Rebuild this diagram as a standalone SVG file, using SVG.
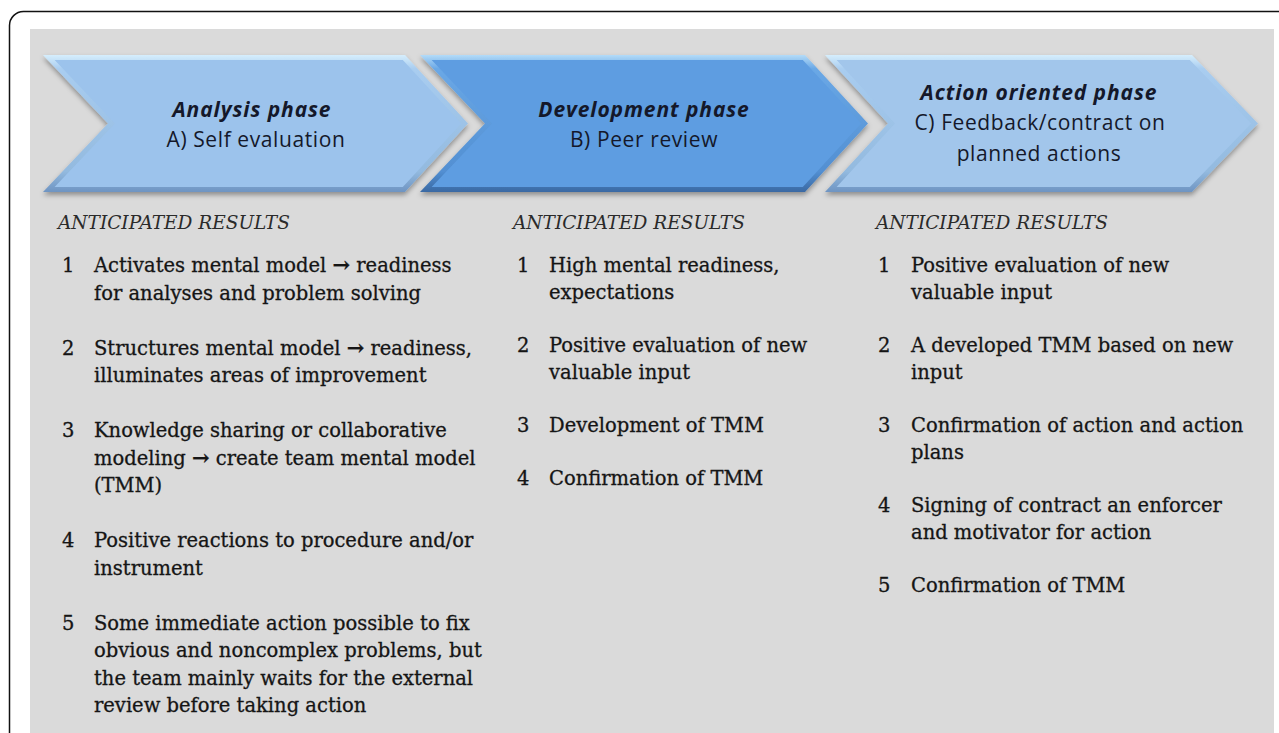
<svg xmlns="http://www.w3.org/2000/svg" width="1279" height="733" viewBox="0 0 1279 733">
<defs>
<linearGradient id="bevL" x1="0" y1="0" x2="0" y2="1">
<stop offset="0" stop-color="#d6eefc"/><stop offset="0.1" stop-color="#a9cdf0"/><stop offset="0.85" stop-color="#93badf"/><stop offset="1" stop-color="#6e94c2"/>
</linearGradient>
<linearGradient id="bevD" x1="0" y1="0" x2="0" y2="1">
<stop offset="0" stop-color="#b3dbf8"/><stop offset="0.1" stop-color="#6aa8e6"/><stop offset="0.85" stop-color="#528fd2"/><stop offset="1" stop-color="#3a69a3"/>
</linearGradient>
<filter id="sh" x="-5%" y="-10%" width="110%" height="130%">
<feDropShadow dx="0" dy="3" stdDeviation="2.5" flood-color="#000" flood-opacity="0.35"/>
</filter>
<style>
.hdB{font-family:"Open Sans","Liberation Sans",sans-serif;font-size:21px;font-weight:bold;font-style:italic;fill:#14182a;text-anchor:middle;letter-spacing:0.9px}
.hd{font-family:"Open Sans","Liberation Sans",sans-serif;font-size:21px;fill:#14182a;text-anchor:middle;letter-spacing:0.6px}
.ar{font-family:"DejaVu Serif","Liberation Serif",serif;font-size:18.5px;font-style:italic;fill:#2a2a2a}
.tx{font-family:"DejaVu Serif","Liberation Serif",serif;font-size:19.5px;fill:#151515;stroke:#151515;stroke-width:0.3}
.arw{font-weight:bold;font-size:21px}
</style>
</defs>
<rect x="9.5" y="11.5" width="1320" height="800" rx="14" fill="#ffffff" stroke="#111" stroke-width="1.5"/>
<rect x="30" y="29" width="1244" height="704" fill="#dadada"/>

<g id="phase-a">
<polygon points="43,55 405,55 468,123.5 405,192 43,192 108,123.5" fill="url(#bevL)" filter="url(#sh)"/>
<polygon points="54.6,60 402.8,60 461.2,123.5 402.8,187 54.6,187 114.9,123.5" fill="#9cc3ec"/>
<text class="hdB" x="252" y="117">Analysis phase</text>
<text class="hd" x="256" y="147">A) Self evaluation</text>
</g>
<g id="phase-b">
<polygon points="420,55 805,55 868,123.5 805,192 420,192 485,123.5" fill="url(#bevD)" filter="url(#sh)"/>
<polygon points="431.6,60 802.8,60 861.2,123.5 802.8,187 431.6,187 491.9,123.5" fill="#5e9de1"/>
<text class="hdB" x="644" y="117">Development phase</text>
<text class="hd" x="644" y="147">B) Peer review</text>
</g>
<g id="phase-c">
<polygon points="825,55 1192,55 1258,123.5 1192,192 825,192 888,123.5" fill="url(#bevL)" filter="url(#sh)"/>
<polygon points="836.6,60 1189.8,60 1251.2,123.5 1189.8,187 836.6,187 894.9,123.5" fill="#a2c6eb"/>
<text class="hdB" x="1039" y="100">Action oriented phase</text>
<text class="hd" x="1040" y="130">C) Feedback/contract on</text>
<text class="hd" x="1039" y="161">planned actions</text>
</g>
<g id="connectors"/>

<g id="results-a">
<text class="ar" x="58" y="229">ANTICIPATED RESULTS</text>
<text class="tx" x="62" y="272">1</text>
<text class="tx" x="94" y="272">Activates mental model <tspan class="arw">→</tspan> readiness</text>
<text class="tx" x="94" y="299.5">for analyses and problem solving</text>
<text class="tx" x="62" y="354.5">2</text>
<text class="tx" x="94" y="354.5">Structures mental model <tspan class="arw">→</tspan> readiness,</text>
<text class="tx" x="94" y="382">illuminates areas of improvement</text>
<text class="tx" x="62" y="437">3</text>
<text class="tx" x="94" y="437">Knowledge sharing or collaborative</text>
<text class="tx" x="94" y="464.5">modeling <tspan class="arw">→</tspan>  create team mental model</text>
<text class="tx" x="94" y="492">(TMM)</text>
<text class="tx" x="62" y="547">4</text>
<text class="tx" x="94" y="547">Positive reactions to procedure and/or</text>
<text class="tx" x="94" y="574.5">instrument</text>
<text class="tx" x="62" y="629.5">5</text>
<text class="tx" x="94" y="629.5">Some immediate action possible to fix</text>
<text class="tx" x="94" y="657">obvious and noncomplex problems, but</text>
<text class="tx" x="94" y="684.5">the team mainly waits for the external</text>
<text class="tx" x="94" y="712">review before taking action</text>
</g>

<g id="results-b">
<text class="ar" x="513" y="229">ANTICIPATED RESULTS</text>
<text class="tx" x="517" y="272">1</text>
<text class="tx" x="549" y="272">High mental readiness,</text>
<text class="tx" x="549" y="299">expectations</text>
<text class="tx" x="517" y="352">2</text>
<text class="tx" x="549" y="352">Positive evaluation of new</text>
<text class="tx" x="549" y="379">valuable input</text>
<text class="tx" x="517" y="432">3</text>
<text class="tx" x="549" y="432">Development of TMM</text>
<text class="tx" x="517" y="485">4</text>
<text class="tx" x="549" y="485">Confirmation of TMM</text>
</g>

<g id="results-c">
<text class="ar" x="876" y="229">ANTICIPATED RESULTS</text>
<text class="tx" x="878" y="272">1</text>
<text class="tx" x="911" y="272">Positive evaluation of new</text>
<text class="tx" x="911" y="299">valuable input</text>
<text class="tx" x="878" y="352">2</text>
<text class="tx" x="911" y="352">A developed TMM based on new</text>
<text class="tx" x="911" y="379">input</text>
<text class="tx" x="878" y="432">3</text>
<text class="tx" x="911" y="432">Confirmation of action and action</text>
<text class="tx" x="911" y="459">plans</text>
<text class="tx" x="878" y="512">4</text>
<text class="tx" x="911" y="512">Signing of contract an enforcer</text>
<text class="tx" x="911" y="539">and motivator for action</text>
<text class="tx" x="878" y="592">5</text>
<text class="tx" x="911" y="592">Confirmation of TMM</text>
</g>
</svg>
